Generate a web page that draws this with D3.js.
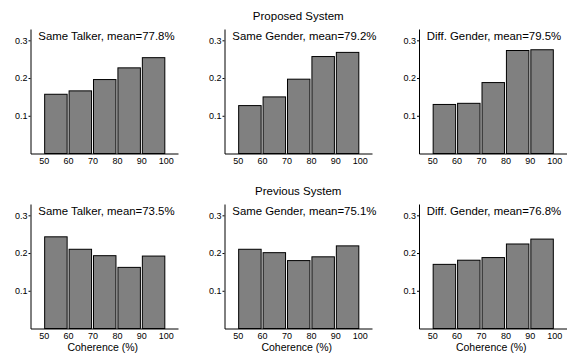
<!DOCTYPE html>
<html>
<head>
<meta charset="utf-8">
<script src="https://cdn.jsdelivr.net/npm/d3@7"></script>
<style>
  body{margin:0;background:#fff;}
  svg{display:block;font-family:"Liberation Sans",Arial,sans-serif;}
  .domain{stroke:#000;stroke-width:1;}
  .tick line{stroke:#000;}
  .tick text{fill:#000;font-size:9px;}
</style>
</head>
<body>
<div id="chart-area"></div>
<script>
// ---------DATA-----------------
let binEdges=[50,60,70,80,90];
let xTicks=[50,60,70,80,90,100];
let yTicks=[0.1,0.2,0.3];

let rowTitles=["Proposed System","Previous System"];
let panelNames=["Same Talker","Same Gender","Diff. Gender"];

let proposedMeans=["77.8%","79.2%","79.5%"];
let previousMeans=["73.5%","75.1%","76.8%"];

let proposedSameTalker=[0.157,0.166,0.196,0.227,0.254];
let proposedSameGender=[0.127,0.150,0.197,0.257,0.268];
let proposedDiffGender=[0.130,0.133,0.188,0.273,0.275];

let previousSameTalker=[0.243,0.210,0.193,0.162,0.192];
let previousSameGender=[0.210,0.201,0.180,0.190,0.219];
let previousDiffGender=[0.170,0.181,0.188,0.224,0.237];

let rows=[
	{title:rowTitles[0],means:proposedMeans,series:[proposedSameTalker,proposedSameGender,proposedDiffGender]},
	{title:rowTitles[1],means:previousMeans,series:[previousSameTalker,previousSameGender,previousDiffGender]}
];

// ---------LAYOUT---------------
let W=569,H=354;
let colLeft=[30.5,224.5,419];
let rowTop=[29,204];
let pw=147.5,ph=124.5;

let svg=d3.select("#chart-area").append('svg')
	.attr('width',W)
	.attr('height',H);

// ---------SCALES---------------
let x=d3.scaleLinear()
	.domain([44.6,105])
	.range([0,pw]);

let y=d3.scaleLinear()
	.domain([0,0.33])
	.range([ph,0]);

let xAxis=d3.axisBottom(x)
	.tickValues(xTicks)
	.tickSize(0)
	.tickPadding(4)
	.tickFormat(d3.format('d'));

let yAxis=d3.axisLeft(y)
	.tickValues(yTicks)
	.tickSize(2)
	.tickSizeOuter(0)
	.tickPadding(1)
	.tickFormat(d3.format('.1f'));

// ---------PANELS---------------
rows.forEach(function(row,ri){
	// row title above middle panel
	svg.append('text')
		.attr('x',colLeft[1]+pw/2)
		.attr('y',rowTop[ri]-9.5)
		.attr('text-anchor','middle')
		.attr('font-size','11.5px')
		.text(row.title);

	row.series.forEach(function(vals,ci){
		let g=svg.append('g')
			.attr("transform","translate("+colLeft[ci]+", "+rowTop[ri]+")");

		g.selectAll('rect')
			.data(vals)
			.enter()
			.append('rect')
				.attr('x',(d,i)=>x(binEdges[i]+0.4))
				.attr('y',d=>y(d))
				.attr('width',(d,i)=>x(binEdges[i]+9.6)-x(binEdges[i]+0.4))
				.attr('height',d=>ph-y(d))
				.attr('fill','#808080')
				.attr('stroke','#000')
				.attr('stroke-width',1);

		g.append('g')
			.attr('class','x-axis')
			.attr("transform","translate(0, "+ph+")")
			.call(xAxis);

		g.append('g')
			.attr('class','y-axis')
			.call(yAxis);

		g.append('text')
			.attr('x',7.8)
			.attr('y',11)
			.attr('font-size','11.4px')
			.text(panelNames[ci]+", mean="+row.means[ci]);

		if(ri===1){
			g.append('text')
				.attr('x',pw/2-1.5)
				.attr('y',ph+22)
				.attr('text-anchor','middle')
				.attr('font-size','10.5px')
				.text('Coherence (%)');
		}
	});
});
</script>
</body>
</html>
